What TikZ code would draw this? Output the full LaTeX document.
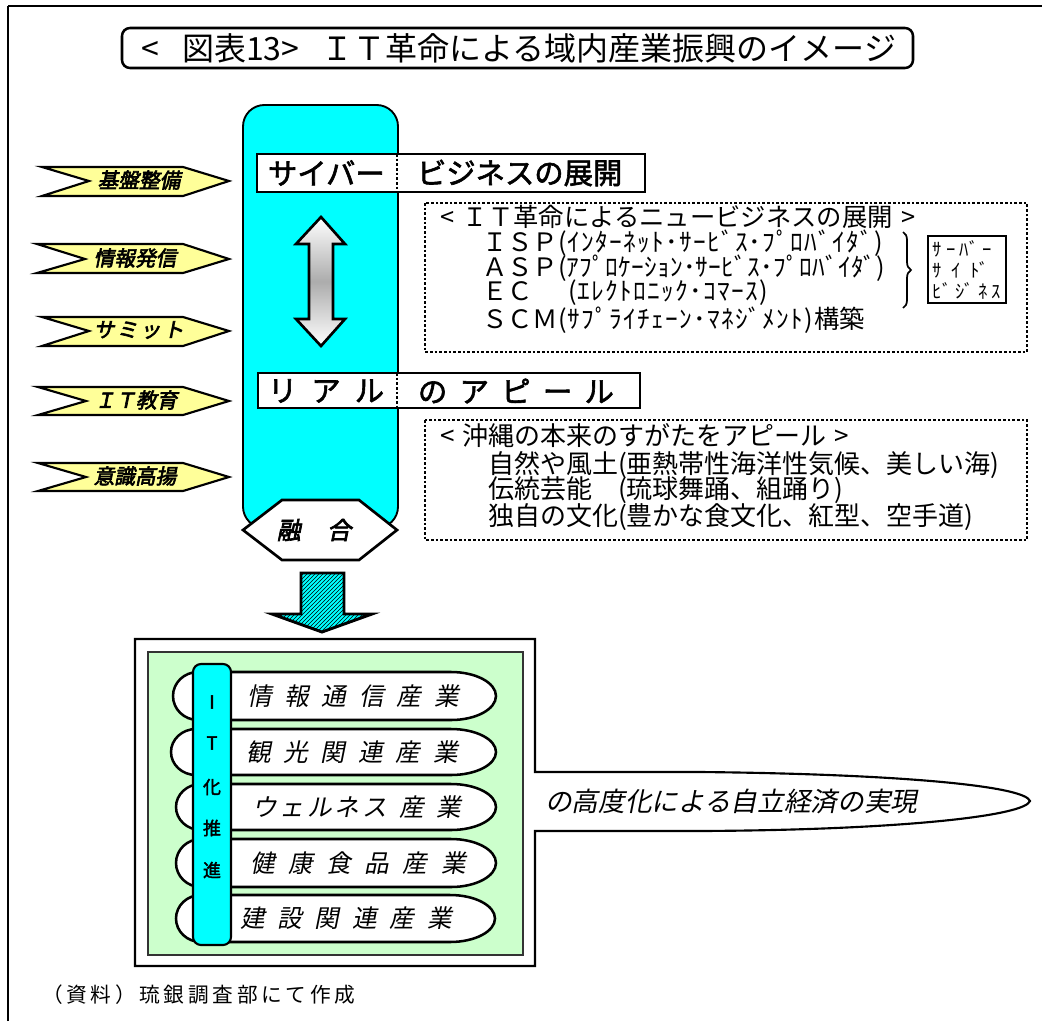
\documentclass[tikz,border=0pt]{standalone}
\usepackage{fontspec}
\setmainfont{Noto Sans CJK JP}
\newfontfamily\jpit[FakeSlant=0.2]{Noto Sans CJK JP}
\newfontfamily\jpbi[FakeSlant=0.2,FakeBold=3]{Noto Sans CJK JP}
\newfontfamily\jpb[FakeBold=2]{Noto Sans CJK JP}
\usetikzlibrary{patterns,decorations.pathreplacing}
\definecolor{cyanc}{HTML}{00FFFF}
\definecolor{yelc}{HTML}{FFFF99}
\definecolor{grnc}{HTML}{CCFFCC}
\newcommand\spacedtext[2]{\def\sptgap{\kern#1\relax}\sptloop#2\relax}
\def\sptloop#1{\ifx\relax#1\else#1\sptgap\expandafter\sptloop\fi}
\begin{document}
\begin{tikzpicture}[x=0.75pt,y=-0.75pt]
\tikzset{
  lbl/.style={inner sep=0pt, outer sep=0pt},
  thickbox/.style={draw=black, line width=2.2pt, fill=white},
  dotbox/.style={draw=black, line width=1.6pt, dash pattern=on 2pt off 1.5pt},
  banner/.style={draw=black, fill=yelc, line width=1.6pt, line join=miter},
  bannertext/.style={lbl, font=\jpbi\fontsize{15.5}{15.5}\selectfont},
  indshape/.style={draw=black, fill=white, line width=1.9pt},
  indtext/.style={lbl, anchor=west, font=\jpit\fontsize{18.5}{18.5}\selectfont},
  boxtext/.style={lbl, anchor=west, font=\fontsize{19}{19}\selectfont},
  boxtextb/.style={lbl, anchor=west, font=\fontsize{19.5}{19.5}\selectfont},
  hdrtext/.style={lbl, anchor=west, font=\jpb\fontsize{22}{22}\selectfont},
  bartext/.style={lbl, font=\jpb\fontsize{13.5}{13.5}\selectfont},
}
\useasboundingbox (0,0) rectangle (1042,1021);
\fill[white] (0,0) rectangle (1042,1021);
% outer frame
\coordinate (fbl) at (8,1021);
\coordinate (ftl) at (8,6);
\coordinate (ftr) at (1042,6);
\draw[line width=1.4pt] (fbl) -- (ftl);
\draw[line width=2pt] (ftl) -- (ftr);
% title
\draw[line width=1.9pt, rounded corners=6pt] (122,28) rectangle (913,68);
\node[lbl, font=\fontsize{24}{24}\selectfont] (title) at (519,48) {<\kern0.7em 図表13>\kern0.7em ＩＴ革命による域内産業振興のイメージ};
% banners
\draw[banner] (42,167) -- (183,167) -- (229,181) -- (183,196) -- (42,196) -- (89,181) -- cycle;
\node[bannertext] (bn1) at (139,180) {基盤整備};
\draw[banner] (37,244) -- (183,244) -- (229,259) -- (183,273) -- (37,273) -- (85,259) -- cycle;
\node[bannertext] (bn2) at (135,258) {情報発信};
\draw[banner] (42,317) -- (183,317) -- (229,331) -- (183,346) -- (42,346) -- (89,331) -- cycle;
\node[bannertext] (bn3) at (140,330) {\spacedtext{0.12em}{サミット}};
\draw[banner] (38,387) -- (183,387) -- (229,401) -- (183,415) -- (38,415) -- (86,401) -- cycle;
\node[bannertext] (bn4) at (136,400) {ＩＴ教育};
\draw[banner] (38,463) -- (183,463) -- (229,477) -- (183,491) -- (38,491) -- (86,477) -- cycle;
\node[bannertext] (bn5) at (135,476) {意識高揚};
% cyan column
\draw[fill=cyanc, line width=1.4pt, rounded corners=16pt] (243,105) rectangle (398,528);
% headers
\draw[thickbox] (257,154) rectangle (645,192);
\node[hdrtext] (h1a) at (268,173) {サイバー};
\node[hdrtext] (h1b) at (417,173) {ビジネスの展開};
\draw[dotbox] (397,154) -- (397,192);
\draw[thickbox] (258,373) rectangle (640,408);
\node[hdrtext] (h2a) at (268,391) {\spacedtext{0.48em}{リアル}};
\node[hdrtext] (h2b) at (418,391) {\spacedtext{0.42em}{のアピール}};
\draw[dotbox] (397,373) -- (397,408);
% double arrow
\shade[top color=white, bottom color=white, middle color=gray!65]
  (321,217) -- (345,244) -- (333,244) -- (333,319) -- (345,319) -- (321,346) -- (296,319) -- (309,319) -- (309,244) -- (296,244) -- cycle;
\draw[line width=2pt, line join=miter]
  (321,217) -- (345,244) -- (333,244) -- (333,319) -- (345,319) -- (321,346) -- (296,319) -- (309,319) -- (309,244) -- (296,244) -- cycle;
% fusion hexagon
\draw[fill=white, line width=2pt] (243,530) -- (282,500) -- (359,500) -- (397,530) -- (359,560) -- (282,560) -- cycle;
\node[lbl, font=\jpbi\fontsize{18}{18}\selectfont] (fuse) at (314,530) {融\kern1.1em 合};
% down arrow
\fill[cyanc] (301,573) -- (344,573) -- (344,614) -- (372,614) -- (322,632) -- (272,614) -- (301,614) -- cycle;
\fill[pattern=north east lines] (301,573) -- (344,573) -- (344,614) -- (372,614) -- (322,632) -- (272,614) -- (301,614) -- cycle;
\draw[line width=2.2pt, line join=miter] (301,573) -- (344,573) -- (344,614) -- (372,614) -- (322,632) -- (272,614) -- (301,614) -- cycle;
% dotted box 1
\draw[dotbox] (425,203) rectangle (1027,352);
\node[boxtext] (b1l1) at (440,217) {<\kern0.35em ＩＴ革命によるニュービジネスの展開\kern0.35em >};
\node[boxtext] (b1l2) at (482,243) {ＩＳＰ\spacedtext{0.05em}{(ｲﾝﾀｰﾈｯﾄ･ｻｰﾋﾞｽ･ﾌﾟﾛﾊﾞｲﾀﾞ)}};
\node[boxtext] (b1l3) at (482,268) {ＡＳＰ\spacedtext{0.01em}{(ｱﾌﾟﾛｹｰｼｮﾝ･ｻｰﾋﾞｽ･ﾌﾟﾛﾊﾞｲﾀﾞ)}};
\node[boxtext] (b1l4) at (482,293) {ＥＣ　\kern0.4em\spacedtext{0.05em}{(ｴﾚｸﾄﾛﾆｯｸ･ｺﾏｰｽ)}};
\node[boxtext] (b1l5) at (482,320) {ＳＣＭ\spacedtext{0.05em}{(ｻﾌﾟﾗｲﾁｪｰﾝ･ﾏﾈｼﾞﾒﾝﾄ)}構築};
\coordinate (brt) at (903,232);
\coordinate (brb) at (903,308);
\draw[line width=1.3pt, decorate, decoration={brace, amplitude=6pt}] (brt) -- (brb);
\draw[line width=1.5pt] (928,236) rectangle (1006,303);
\node[lbl, align=left, font=\fontsize{14}{16}\selectfont] (ssb) at (967,270) {ｻ ｰ ﾊﾞ ｰ\\ｻ\kern0.5em ｲ\kern0.5em ﾄﾞ\\ﾋﾞ ｼﾞ ﾈ ｽ};
% dotted box 2
\draw[dotbox] (425,420) rectangle (1027,540);
\node[boxtextb] (b2l1) at (440,436) {<\kern0.3em 沖縄の本来のすがたをアピール\kern0.3em >};
\node[boxtextb] (b2l2) at (488,465) {自然や風土(亜熱帯性海洋性気候、美しい海)};
\node[boxtextb] (b2l3) at (488,490) {伝統芸能　(琉球舞踊、組踊り)};
\node[boxtextb] (b2l4) at (488,517) {独自の文化(豊かな食文化、紅型、空手道)};
% bottom box with callout
\draw[fill=white, line width=1.6pt] (135,639) -- (535,639) -- (535,772) -- (700,772)
  .. controls (900,774) and (1025,786) .. (1030,801)
  .. controls (1025,816) and (900,830) .. (700,831) -- (535,831) -- (535,966) -- (135,966) -- cycle;
\node[lbl, anchor=west, font=\jpit\fontsize{20}{20}\selectfont] (goal) at (545,801) {の高度化による自立経済の実現};
\draw[fill=grnc, draw=black!80, line width=1.2pt] (148,652) rectangle (523,955);
% industry rows
\foreach \L/\T/\B/\R in {173/672/720/496, 171/729/775/496, 176/784/830/496, 176/839/887/496, 176/895/942/495} {
  \pgfmathsetmacro\ry{(\B-\T)/2}
  \draw[indshape] (\L+25,\T) -- (\R-45,\T) arc[start angle=-90,end angle=90,x radius=45,y radius=\ry] -- (\L+25,\B) arc[start angle=90,end angle=270,x radius=25,y radius=\ry] -- cycle;
}
\node[indtext] (r1) at (247,696) {\spacedtext{0.52em}{情報通信産業}};
\node[indtext] (r2) at (246,752) {\spacedtext{0.52em}{観光関連産業}};
\node[indtext] (r3) at (252,807) {\spacedtext{0.12em}{ウェルネス}\kern0.4em\spacedtext{0.5em}{産業}};
\node[indtext] (r4) at (250,863) {\spacedtext{0.55em}{健康食品産業}};
\node[indtext] (r5) at (240,918) {\spacedtext{0.52em}{建設関連産業}};
% IT bar
\draw[fill=cyanc, line width=1.6pt, rounded corners=6pt] (193,664) rectangle (231,945);
\node[bartext] (it1) at (212,702) {I};
\node[bartext] (it2) at (212,743) {T};
\node[bartext] (it3) at (212,787) {化};
\node[bartext] (it4) at (212,828) {推};
\node[bartext] (it5) at (212,870) {進};
% footer
\node[lbl, anchor=west, font=\fontsize{15.5}{15.5}\selectfont] (src) at (42,995) {\spacedtext{0.18em}{（資料）琉銀調査部にて作成}};
\end{tikzpicture}
\end{document}
